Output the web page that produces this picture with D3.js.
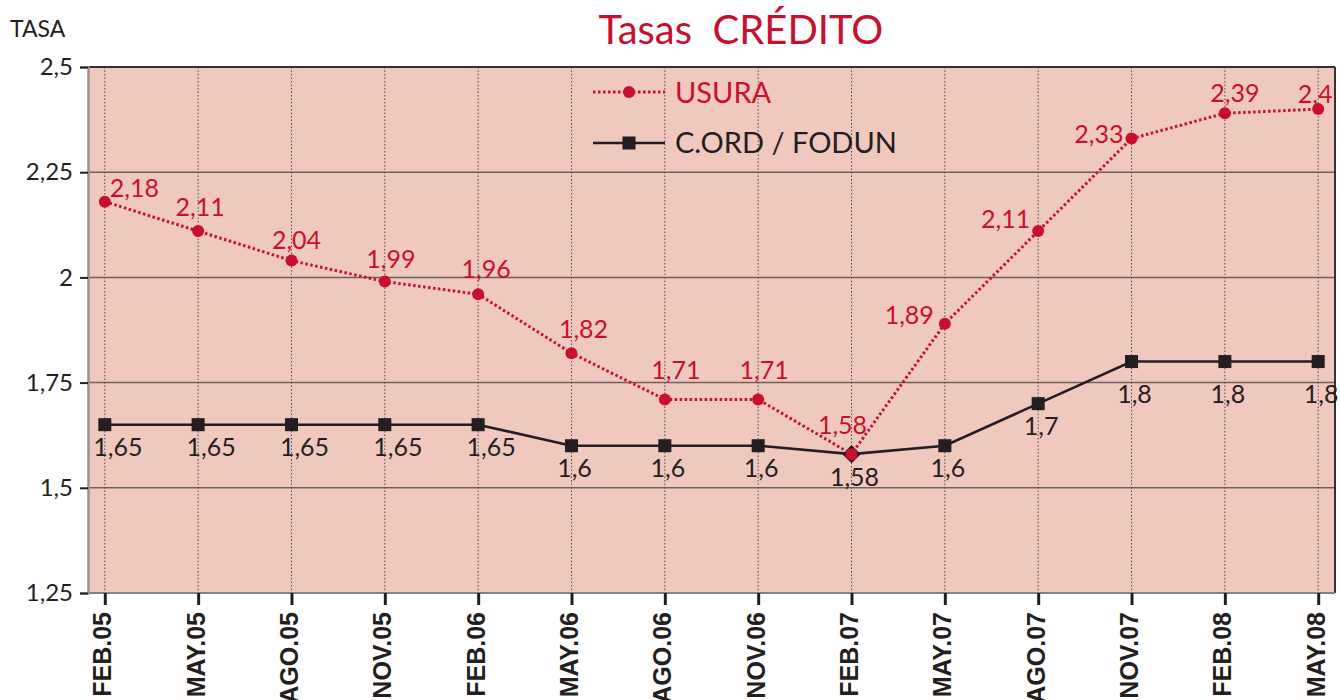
<!DOCTYPE html>
<html>
<head>
<meta charset="utf-8">
<script src="https://cdn.jsdelivr.net/npm/d3@7"></script>
<style>
  body { margin: 0; background: #fff; }
  text { font-family: Lato, "Open Sans", sans-serif; }
</style>
</head>
<body>
<div id="chart"></div>
<script>
var periods = ["FEB.05","MAY.05","AGO.05","NOV.05","FEB.06","MAY.06","AGO.06",
               "NOV.06","FEB.07","MAY.07","AGO.07","NOV.07","FEB.08","MAY.08"];
var usura = [2.18, 2.11, 2.04, 1.99, 1.96, 1.82, 1.71, 1.71, 1.58, 1.89, 2.11, 2.33, 2.39, 2.4];
var cord  = [1.65, 1.65, 1.65, 1.65, 1.65, 1.6, 1.6, 1.6, 1.58, 1.6, 1.7, 1.8, 1.8, 1.8];
var yTicks = [1.25, 1.5, 1.75, 2, 2.25, 2.5];
var seriesNames = ["USURA", "C.ORD / FODUN"];

var width = 1340, height = 700;
var plot = { left: 88, right: 1335, top: 67, bottom: 593 };
var red = "#c8102e", ink = "#231f20";

var svg = d3.select("#chart").append("svg")
    .attr("width", width)
    .attr("height", height);

var x = d3.scalePoint()
    .domain(periods)
    .range([plot.left, plot.right])
    .padding(0.18);

var y = d3.scaleLinear()
    .domain([1.25, 2.5])
    .range([plot.bottom, plot.top]);

var fmt = function(v) { return String(v).replace(".", ","); };

// background
svg.append("rect")
    .attr("x", plot.left).attr("y", plot.top)
    .attr("width", plot.right - plot.left)
    .attr("height", plot.bottom - plot.top)
    .attr("fill", "#f0c9be");

// horizontal grid
svg.append("g").selectAll("line")
    .data(yTicks.slice(1, -1))
    .join("line")
    .attr("x1", plot.left).attr("x2", plot.right)
    .attr("y1", function(d) { return y(d); })
    .attr("y2", function(d) { return y(d); })
    .attr("stroke", "#6f615d").attr("stroke-width", 1.5);

// vertical dotted grid
svg.append("g").selectAll("line")
    .data(periods)
    .join("line")
    .attr("x1", function(d) { return x(d); })
    .attr("x2", function(d) { return x(d); })
    .attr("y1", plot.top).attr("y2", plot.bottom)
    .attr("stroke", "#5a4a46").attr("stroke-width", 1)
    .attr("stroke-dasharray", "1.5,2");

// frame
svg.append("line").attr("x1", plot.left).attr("x2", plot.right)
    .attr("y1", plot.top).attr("y2", plot.top)
    .attr("stroke", "#3a3030").attr("stroke-width", 2);
svg.append("line").attr("x1", plot.right).attr("x2", plot.right)
    .attr("y1", plot.top).attr("y2", plot.bottom)
    .attr("stroke", "#3a3030").attr("stroke-width", 2);
svg.append("line").attr("x1", plot.left).attr("x2", plot.right)
    .attr("y1", plot.bottom).attr("y2", plot.bottom)
    .attr("stroke", "#8a8080").attr("stroke-width", 2);

// y axis
var yAxis = svg.append("g")
    .attr("transform", "translate(" + plot.left + ",0)")
    .call(d3.axisLeft(y).tickValues(yTicks).tickFormat(fmt).tickSize(8).tickPadding(7));
yAxis.select(".domain").attr("stroke", "#9a9090").attr("stroke-width", 2.5);
yAxis.selectAll(".tick line").attr("stroke", ink).attr("stroke-width", 2);
yAxis.selectAll(".tick text")
    .attr("font-size", 24).attr("fill", ink)
    .style("font-family", "Lato, sans-serif");

// x axis
var xAxis = svg.append("g")
    .attr("transform", "translate(0," + plot.bottom + ")")
    .call(d3.axisBottom(x).tickSize(12).tickSizeOuter(0));
xAxis.select(".domain").remove();
xAxis.selectAll(".tick line").attr("stroke", ink).attr("stroke-width", 3);
xAxis.selectAll(".tick text")
    .attr("transform", "translate(6,19) rotate(-90)")
    .attr("x", 0).attr("y", 0).attr("dy", 0)
    .attr("text-anchor", "end")
    .attr("font-size", 25)
    .attr("font-weight", "bold")
    .attr("fill", ink)
    .style("font-family", "'Liberation Sans Narrow', 'Arial Narrow', sans-serif");

// C.ORD / FODUN line
var line = function(vals) {
  return d3.line()
    .x(function(d, i) { return x(periods[i]); })
    .y(function(d) { return y(d); })(vals);
};

svg.append("path")
    .attr("d", line(cord))
    .attr("fill", "none")
    .attr("stroke", ink)
    .attr("stroke-width", 2.6);

svg.append("g").selectAll("path")
    .data(cord)
    .join("path")
    .attr("d", d3.symbol(d3.symbolSquare, 170))
    .attr("transform", function(d, i) {
      // the FEB.07 marker is drawn turned on its corner in the original
      return "translate(" + x(periods[i]) + "," + y(d) + ")" + (i === 8 ? " rotate(45)" : "");
    })
    .attr("fill", ink);

// C.ORD labels (below points)
svg.append("g").selectAll("text")
    .data(cord)
    .join("text")
    .attr("x", function(d, i) { return x(periods[i]) + (i < 5 ? 13 : 3); })
    .attr("y", function(d, i) { return y(d) + (i >= 11 ? 41 : i === 8 ? 32 : 31); })
    .attr("text-anchor", "middle")
    .attr("font-size", 25)
    .attr("fill", ink)
    .text(fmt);

// USURA line
svg.append("path")
    .attr("d", line(usura))
    .attr("fill", "none")
    .attr("stroke", red)
    .attr("stroke-width", 3)
    .attr("stroke-dasharray", "2.5,2.5");

svg.append("g").selectAll("circle")
    .data(usura)
    .join("circle")
    .attr("cx", function(d, i) { return x(periods[i]); })
    .attr("cy", function(d) { return y(d); })
    .attr("r", 6)
    .attr("fill", red);

// USURA labels: placement varies to stay clear of the line
var redAnchor = function(i) {
  if (i === 0) return "start";
  if (i >= 9 && i <= 11) return "end";
  return "middle";
};
var redDx = [5, 2, 5, 6, 8, 12, 11, 6, -9, -11, -8, -8, 10, -3];
var redDy = [-5, -15, -12, -14, -16, -15, -20, -20, -20, 0, -3, 4, -11, -6];

svg.append("g").selectAll("text")
    .data(usura)
    .join("text")
    .attr("x", function(d, i) { return x(periods[i]) + redDx[i]; })
    .attr("y", function(d, i) { return y(d) + redDy[i]; })
    .attr("text-anchor", function(d, i) { return redAnchor(i); })
    .attr("font-size", 25)
    .attr("fill", red)
    .text(fmt);

// legend
var legend = svg.append("g").attr("transform", "translate(593,0)");
legend.append("line")
    .attr("x1", 0).attr("x2", 72).attr("y1", 92).attr("y2", 92)
    .attr("stroke", red).attr("stroke-width", 3).attr("stroke-dasharray", "2.5,2.5");
legend.append("circle").attr("cx", 36).attr("cy", 92).attr("r", 6).attr("fill", red);
legend.append("text").attr("x", 82).attr("y", 103)
    .attr("font-size", 29).attr("fill", red).text(seriesNames[0]);
legend.append("line")
    .attr("x1", 0).attr("x2", 72).attr("y1", 143).attr("y2", 143)
    .attr("stroke", ink).attr("stroke-width", 2.6);
legend.append("path")
    .attr("d", d3.symbol(d3.symbolSquare, 170))
    .attr("transform", "translate(36,143)")
    .attr("fill", ink);
legend.append("text").attr("x", 82).attr("y", 153)
    .attr("font-size", 29).attr("fill", ink).text(seriesNames[1]);

// titles
svg.append("text")
    .attr("x", 741).attr("y", 44)
    .attr("text-anchor", "middle")
    .attr("font-size", 40)
    .attr("fill", red)
    .style("white-space", "pre")
    .text("Tasas  CRÉDITO");

svg.append("text")
    .attr("x", 10).attr("y", 37)
    .attr("font-size", 23)
    .attr("fill", ink)
    .text("TASA");
</script>
</body>
</html>
